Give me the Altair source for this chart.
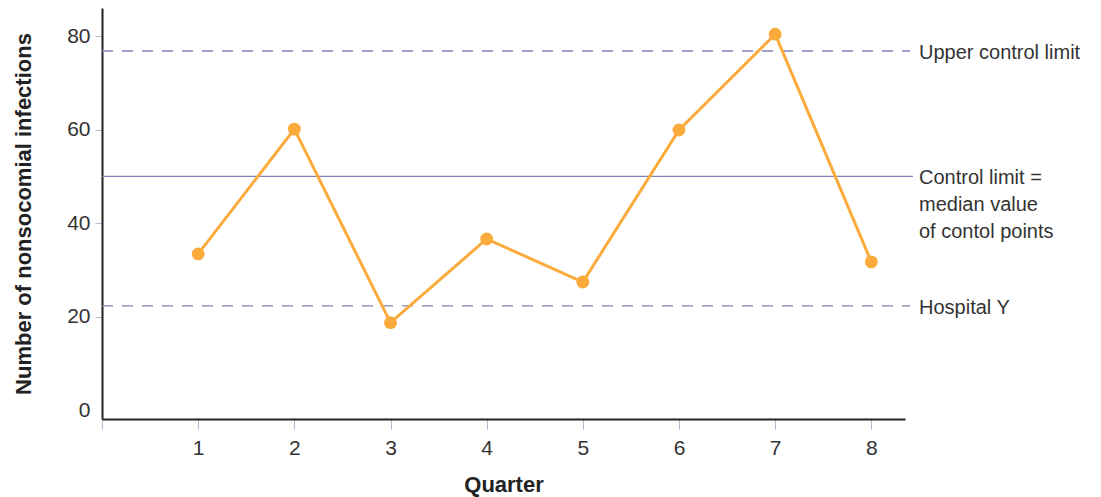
import altair as alt
import pandas as pd

quarters = [1, 2, 3, 4, 5, 6, 7, 8]
infections = [33.4, 60.1, 18.7, 36.6, 27.4, 59.9, 80.4, 31.7]

ref_names = ["Upper control limit", "Control limit =\nmedian value\nof contol points", "Hospital Y"]
ref_values = [76.8, 50.0, 22.3]
ref_dashed = [True, False, True]

FONT = "Liberation Sans"
ORANGE = "#FBAB3C"
REFCOL = "#8082BA"
W, H = 803, 411

df = pd.DataFrame({"Quarter": quarters, "Infections": infections})
refs = pd.DataFrame({"label": ref_names, "value": ref_values, "dashed": ref_dashed})

x_scale = alt.Scale(domain=[0, 8.35], nice=False, zero=False)
y_scale = alt.Scale(domain=[-1.9, 86], nice=False, zero=False)

x_axis = alt.Axis(
    values=[0, 1, 2, 3, 4, 5, 6, 7, 8], format="d",
    labelExpr="datum.value == 0 ? '' : datum.label",
    grid=False, domainColor="#222222", domainWidth=2,
    tickColor="#B4B8D4", tickSize=10, tickWidth=1,
    labelFontSize=21, labelColor="#333333", labelFont=FONT, labelPadding=8,
    title="Quarter", titleFontSize=22, titleFont=FONT, titleFontWeight="bold",
    titleColor="#222222", titlePadding=16,
)
y_axis = alt.Axis(
    values=[0, 20, 40, 60, 80], format="d",
    grid=False, domainColor="#222222", domainWidth=2,
    tickColor="#B4B8D4", tickSize=7, tickWidth=1,
    tickOpacity={"condition": {"test": "datum.value == 0", "value": 0}, "value": 1},
    labelFontSize=21, labelColor="#333333", labelFont=FONT, labelPadding=5,
    title="Number of nonsocomial infections", titleFontSize=22, titleFont=FONT,
    titleFontWeight="bold", titleColor="#222222", titlePadding=31,
)

base = alt.Chart(df)

line = base.mark_line(color=ORANGE, strokeWidth=3).encode(
    x=alt.X("Quarter:Q", scale=x_scale, axis=x_axis),
    y=alt.Y("Infections:Q", scale=y_scale, axis=y_axis),
)
points = base.mark_circle(color=ORANGE, size=165, opacity=1).encode(
    x=alt.X("Quarter:Q", scale=x_scale),
    y=alt.Y("Infections:Q", scale=y_scale),
)

dashed_rules = alt.Chart(refs).transform_filter("datum.dashed").mark_rule(
    color=REFCOL, strokeWidth=1.3, strokeDash=[11, 9]
).encode(y=alt.Y("value:Q", scale=y_scale), x=alt.value(0), x2=alt.value(W + 5))

solid_rules = alt.Chart(refs).transform_filter("!datum.dashed").mark_rule(
    color=REFCOL, strokeWidth=1.3
).encode(y=alt.Y("value:Q", scale=y_scale), x=alt.value(0), x2=alt.value(W + 8))

labels = alt.Chart(refs).mark_text(
    align="left", baseline="top", dy=-8, lineBreak="\n", lineHeight=27,
    font=FONT, fontSize=20, color="#333333",
).encode(
    y=alt.Y("value:Q", scale=y_scale),
    x=alt.value(W + 14),
    text="label:N",
)

chart = alt.layer(dashed_rules, solid_rules, line, points, labels).properties(
    width=W, height=H,
    background="white",
    autosize=alt.AutoSizeParams(type="none"),
    padding={"left": 94, "top": 0, "right": 185, "bottom": 78},
).configure_view(strokeWidth=0, stroke="transparent")

chart.save("out.html", embed_options={"renderer": "svg", "actions": False})
